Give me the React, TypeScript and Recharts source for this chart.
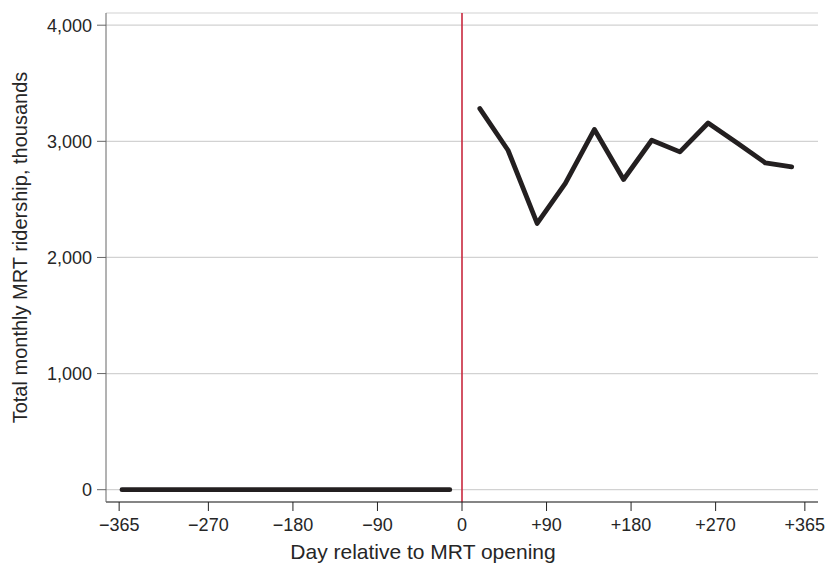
import React from 'react';
import { LineChart, Line, XAxis, YAxis, CartesianGrid, ReferenceLine } from 'recharts';

// days relative to opening, monthly points
const preDays = [-362, -330, -298, -267, -235, -203, -172, -140, -108, -77, -45, -13];
const preRidership = [0, 0, 0, 0, 0, 0, 0, 0, 0, 0, 0, 0];

const postDays = [19, 49, 80, 110, 141, 172, 202, 232, 262, 293, 323, 351];
const postRidership = [3282, 2923, 2293, 2637, 3102, 2671, 3009, 2909, 3158, 2986, 2814, 2780];

const xTicks = [-365, -270, -180, -90, 0, 90, 180, 270, 365];
const yTicks = [0, 1000, 2000, 3000, 4000];

const preData = preDays.map((day, i) => ({ day, riders: preRidership[i] }));
const postData = postDays.map((day, i) => ({ day, riders: postRidership[i] }));

const font = 'Liberation Sans, Arial, Helvetica, sans-serif';

const fmtX = (v: number) => (v < 0 ? '\u2212' + Math.abs(v) : v > 0 ? '+' + v : '0');
const fmtY = (v: number) => v.toLocaleString('en-US');

export default function App() {
  return (
    <div style={{ position: 'absolute', left: 0, top: 0, background: '#fff' }}>
      <LineChart width={828} height={563} margin={{ top: 13, right: 10, bottom: 1, left: 0 }}>
        <CartesianGrid vertical={false} stroke="#d2d2d2" strokeWidth={1.2} />
        <XAxis
          dataKey="day"
          type="number"
          domain={[-379, 379]}
          ticks={xTicks}
          tickFormatter={fmtX}
          allowDuplicatedCategory={false}
          height={60}
          stroke="#222"
          tickLine={{ stroke: '#222' }}
          tickSize={9}
          tickMargin={7}
          tick={{ fill: '#262626', fontSize: 18, fontFamily: font }}
          label={{ value: 'Day relative to MRT opening', position: 'insideBottom', offset: 3, dx: -39, fill: '#262626', fontSize: 21, fontFamily: font }}
        />
        <YAxis
          type="number"
          domain={[-106, 4105]}
          ticks={yTicks}
          tickFormatter={fmtY}
          width={106}
          stroke="#666"
          tickLine={{ stroke: '#666' }}
          tickSize={9}
          tickMargin={5}
          tick={{ fill: '#262626', fontSize: 18, fontFamily: font }}
          label={{ value: 'Total monthly MRT ridership, thousands', angle: -90, position: 'insideLeft', offset: 20, dy: -10, fill: '#262626', fontSize: 20, fontFamily: font, style: { textAnchor: 'middle' } }}
        />
        <ReferenceLine x={0} stroke="#c8283e" strokeWidth={1.6} />
        <Line data={preData} dataKey="riders" type="linear" stroke="#231f20" strokeWidth={4.8} strokeLinecap="round" dot={false} isAnimationActive={false} />
        <Line data={postData} dataKey="riders" type="linear" stroke="#231f20" strokeWidth={4.8} strokeLinecap="round" strokeLinejoin="round" dot={false} isAnimationActive={false} />
      </LineChart>
    </div>
  );
}
